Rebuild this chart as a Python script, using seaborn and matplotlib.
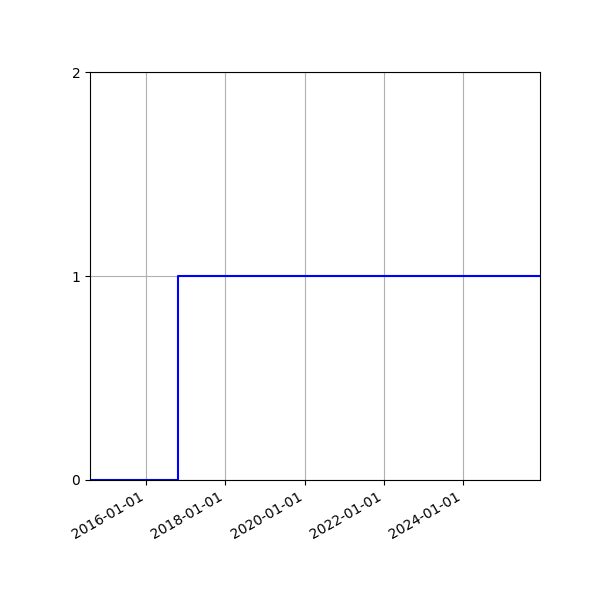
import matplotlib
matplotlib.use("Agg")
import matplotlib.pyplot as plt
import matplotlib.dates as mdates
import seaborn as sns
import pandas as pd

dates = ["2014-08-01", "2016-10-20", "2025-12-10"]
values = [0, 1, 1]
y_ticks = [0, 1, 2]

df = pd.DataFrame({"date": pd.to_datetime(dates), "value": values})

fig, ax = plt.subplots(figsize=(6, 6), dpi=100)
sns.lineplot(data=df, x="date", y="value", ax=ax, color="blue",
             drawstyle="steps-post", estimator=None, linewidth=1.5)
ax.set_xlim(df["date"].min(), df["date"].max())
ax.set_ylim(0, 2)
ax.set_yticks(y_ticks)
ax.xaxis.set_major_locator(mdates.YearLocator(2))
ax.xaxis.set_major_formatter(mdates.DateFormatter("%Y-%m-%d"))
ax.grid(True)
ax.set_xlabel("")
ax.set_ylabel("")
fig.autofmt_xdate()
fig.subplots_adjust(left=0.15, right=0.9, top=0.88, bottom=0.2)
fig.savefig("out.png", dpi=100)
